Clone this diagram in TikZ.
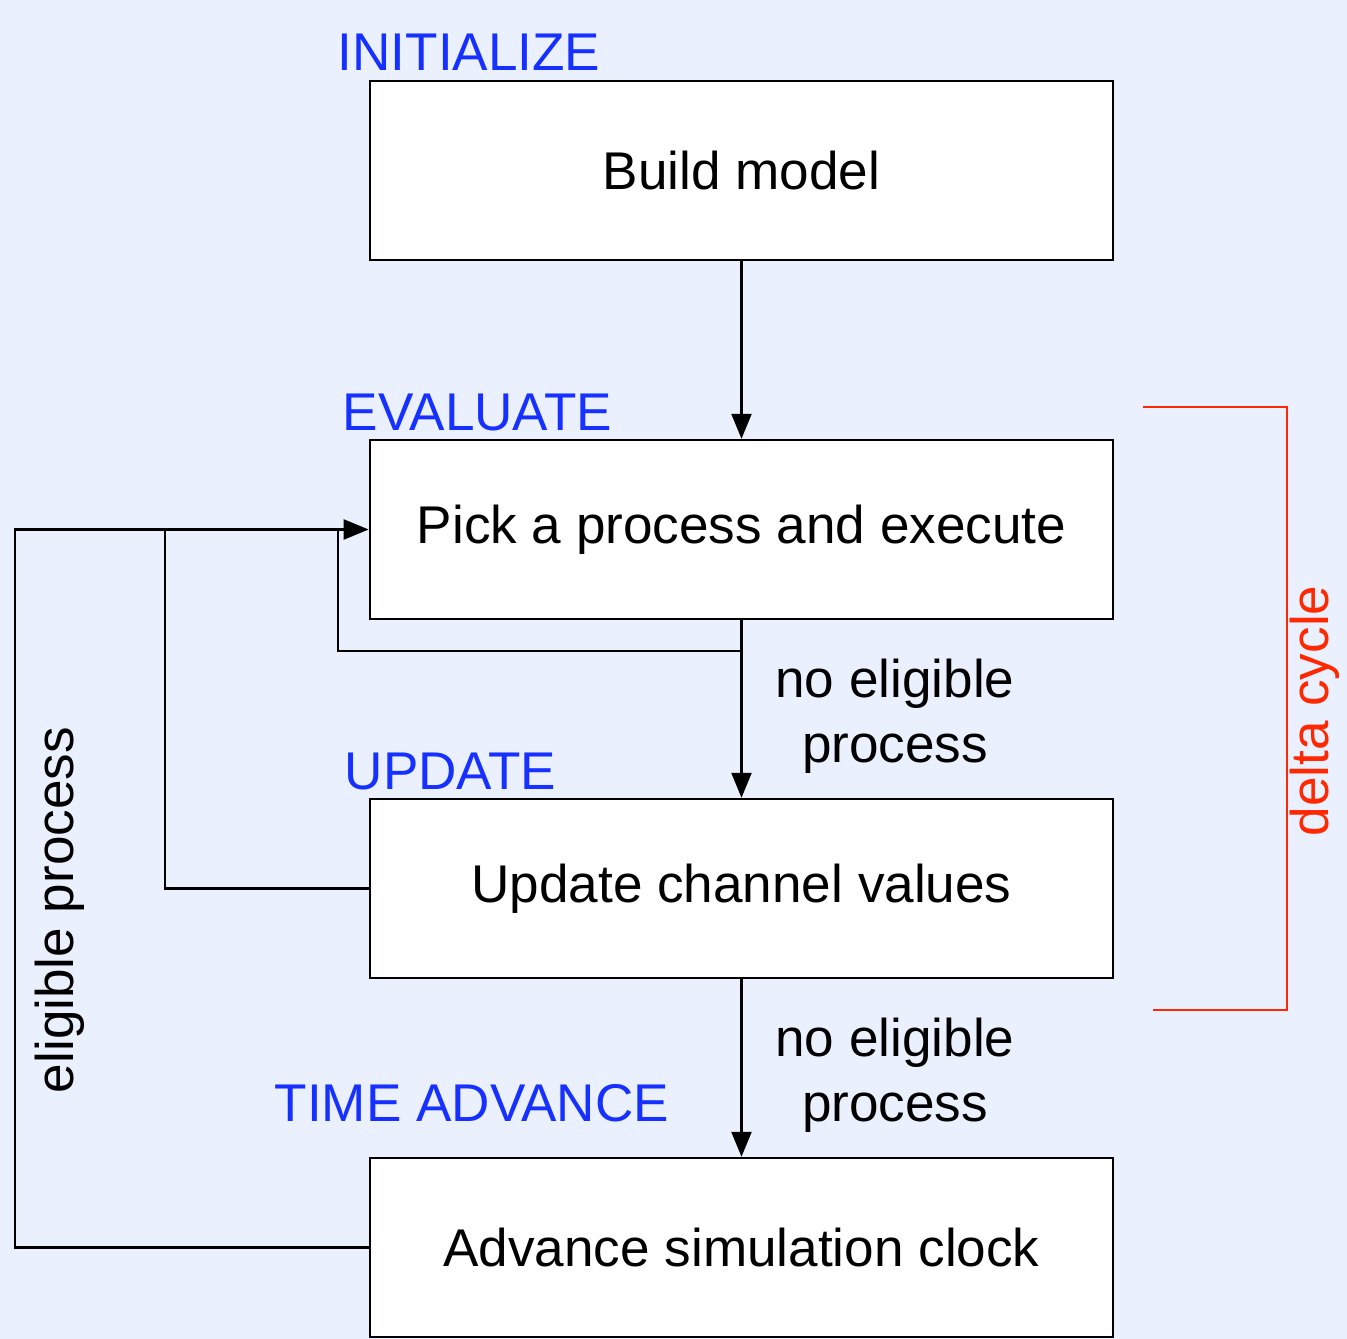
\documentclass[tikz,border=0pt]{standalone}
\usepackage{fontspec}
\setmainfont{Liberation Sans}
\usetikzlibrary{arrows.meta}
\definecolor{bgblue}{RGB}{234,240,254}
\definecolor{stageblue}{RGB}{22,48,255}
\definecolor{deltared}{RGB}{255,40,0}
\tikzset{
 stagebox/.style={draw, fill=white, line width=0.65pt, minimum width=7.43cm, minimum height=1.79cm, font=\fontsize{15.1}{18}\selectfont},
 stagename/.style={anchor=base west, text=stageblue, inner sep=0pt, font=\fontsize{15.1}{18}\selectfont},
 flow/.style={line width=0.65pt, -{Triangle[length=2.5mm,width=2mm]}},
 note/.style={align=center, inner sep=0pt, font=\fontsize{15.1}{18.6}\selectfont}
}
\begin{document}
\begin{tikzpicture}[x=0.01cm, y=-0.01cm]
 \fill[bgblue] (0,0) rectangle (1347,1339);
 \useasboundingbox (0,0) rectangle (1347,1339);
 % the four stages
 \node[stagebox] (build) at (741.5,170.5) {Build model};
 \node[stagebox] (pick) at (741.5,529.5) {Pick a process and execute};
 \node[stagebox] (update) at (741.5,888.5) {Update channel values};
 \node[stagebox] (clock) at (741.5,1247.5) {Advance simulation clock};
 \node[stagename] (initlbl) at (337,70) {INITIALIZE};
 \node[stagename] (evallbl) at (342,430) {EVALUATE};
 \node[stagename] (updlbl) at (344,789) {UPDATE};
 \node[stagename] (timelbl) at (274,1121) {TIME ADVANCE};
 % forward flow
 \draw[flow] (build) -- (pick);
 \draw[flow] (pick) -- (update);
 \draw[flow] (update) -- (clock);
 \node[note] (noelig1) at (895,716) {no eligible\\process};
 \node[note] (noelig2) at (895,1075) {no eligible\\process};
 % loops back to evaluate
 \coordinate (split) at (741.5,651);
 \draw[flow] (split) -- (338,651) -- (338,529.5) -- (pick.west);
 \draw[line width=0.65pt] (update.west) -- (165,888.5) -- (165,529.5) -- (338,529.5);
 \draw[line width=0.65pt] (clock.west) -- (15,1247.5) -- (15,529.5) -- (165,529.5);
 \node[note, rotate=90] (eligproc) at (60,910) {eligible process};
 % delta cycle bracket
 \draw[deltared, line width=0.65pt] (1143,407) -- (1287,407) -- (1287,1010) -- (1153,1010);
 \node[note, rotate=90, text=deltared] (deltalbl) at (1315,711) {delta cycle};
\end{tikzpicture}
\end{document}
